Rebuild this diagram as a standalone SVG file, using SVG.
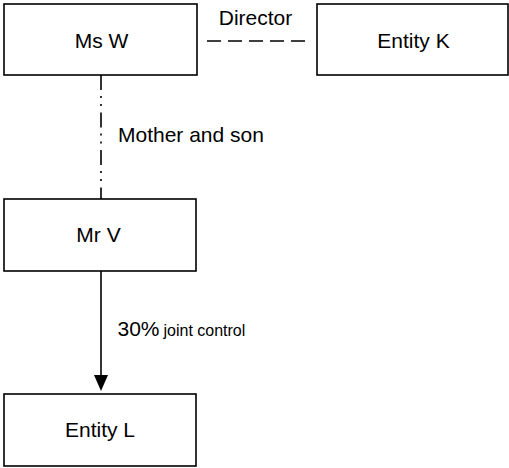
<svg xmlns="http://www.w3.org/2000/svg" width="509" height="468" viewBox="0 0 509 468">
<defs>
<style>
.box{fill:#fff;stroke:#000;stroke-width:1.6}
.t{font-family:"Liberation Sans",Arial,sans-serif;font-size:21px;fill:#000}
.c{text-anchor:middle}
.ln{fill:none;stroke:#000;stroke-width:1.6}
</style>
</defs>
<g id="connectors">
<line class="ln" x1="207" y1="41" x2="308" y2="41" stroke-dasharray="14 7"/>
<line class="ln" x1="101" y1="75" x2="101" y2="199" stroke-dasharray="15 6 2 6 2 6.5"/>
<line class="ln" x1="101" y1="271" x2="101" y2="375"/>
<path d="M94,375 L108,375 L101,391 Z" fill="#000"/>
<text class="t" x="255.5" y="25" text-anchor="middle">Director</text>
<text class="t" x="118" y="141.5">Mother and son</text>
<text class="t" x="117.5" y="336">30%<tspan font-size="16px" dx="4"> </tspan><tspan font-size="16px" x="163.5">joint control</tspan></text>
</g>
<g id="ms-w">
<rect class="box" x="4" y="4" width="193" height="71"/>
<text class="t c" x="101.5" y="48">Ms W</text>
</g>
<g id="entity-k">
<rect class="box" x="317" y="4" width="191" height="71"/>
<text class="t c" x="413.5" y="48">Entity K</text>
</g>
<g id="mr-v">
<rect class="box" x="4" y="199" width="192" height="72"/>
<text class="t c" x="98.5" y="242" font-size="19.5px">Mr V</text>
</g>
<g id="entity-l">
<rect class="box" x="4" y="394" width="192" height="72"/>
<text class="t c" x="100" y="437">Entity L</text>
</g>
</svg>
